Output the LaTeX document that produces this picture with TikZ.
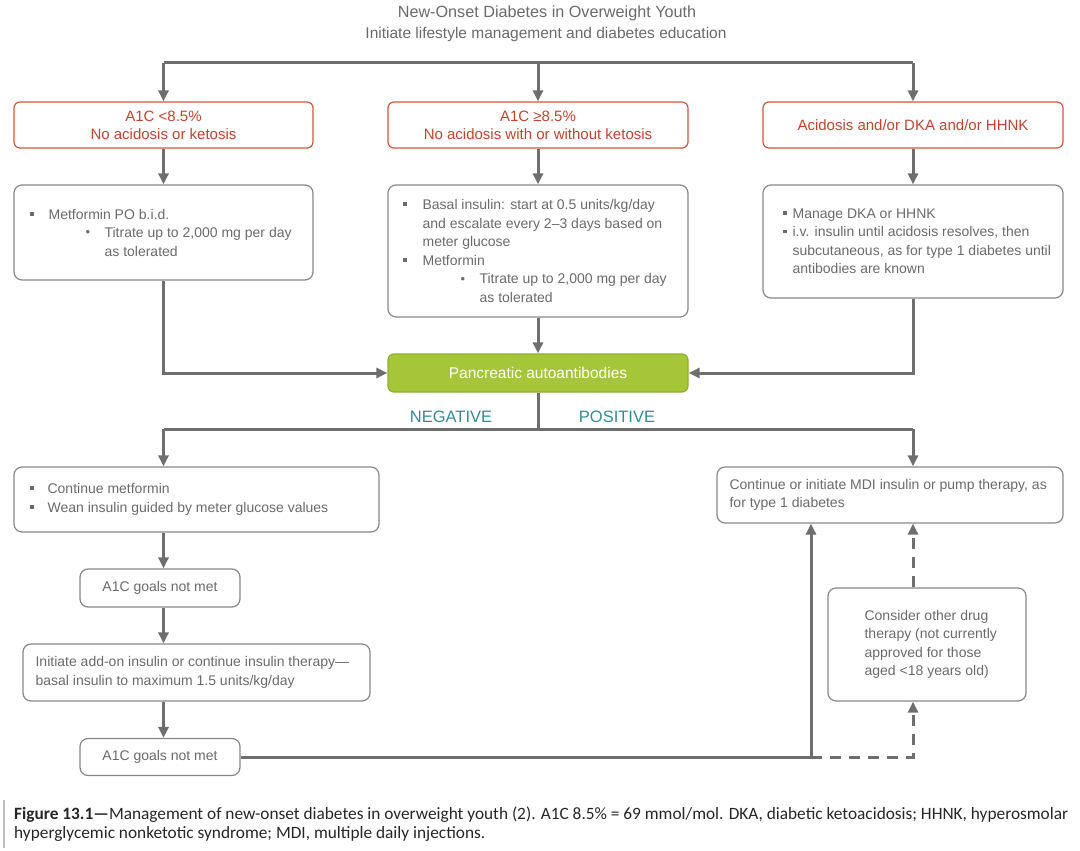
\documentclass[tikz,border=0pt]{standalone}
\usepackage{fontspec}
\setmainfont{Liberation Sans}
\newfontfamily\capfont{Carlito}
\usetikzlibrary{arrows.meta}
\definecolor{lgray}{HTML}{6E6E6E}
\definecolor{bgray}{HTML}{878787}
\definecolor{tgray}{HTML}{6A6A6A}
\definecolor{rborder}{HTML}{D4553E}
\definecolor{rtext}{HTML}{C8412D}
\definecolor{gfill}{HTML}{A6C63A}
\definecolor{gborder}{HTML}{8FAF2C}
\definecolor{labteal}{HTML}{2F8C96}
\newcommand{\sqb}[1]{\makebox[#1][l]{\rule[0.25em]{0.28em}{0.28em}}}
\newcommand{\smb}[1]{\makebox[#1][l]{\raisebox{0.05em}{\fontsize{13}{13}\selectfont\textbullet}}}
\newcommand{\bodyfont}{\fontsize{14}{18.5}\selectfont}
\tikzset{
  ln/.style={draw=lgray, line width=3pt},
  arr/.style={ln, -{Triangle[length=11pt,width=10pt]}},
  darr/.style={ln, dash pattern=on 11pt off 8pt, -{Triangle[length=11pt,width=10pt]}},
  redbox/.style={draw=rborder, rounded corners=6pt, line width=1.2pt, text=rtext, align=center, font=\fontsize{15}{18}\selectfont, inner sep=0pt},
  graybox/.style={draw=bgray, rounded corners=8pt, line width=1.2pt, inner sep=0pt},
  txt/.style={text=tgray, align=left, font=\bodyfont, inner sep=0pt, anchor=west},
  greenbox/.style={draw=gborder, fill=gfill, rounded corners=6pt, line width=1.2pt, text=white, font=\fontsize{15.5}{18}\selectfont, inner sep=0pt},
  lab/.style={text=labteal, font=\fontsize{16.5}{19}\selectfont, inner sep=0pt}
}
\begin{document}
\begin{tikzpicture}[x=1pt,y=-1pt]
\useasboundingbox (0,0) rectangle (1080,851);
% titles
\node[text=tgray, font=\fontsize{16.2}{19}\selectfont, inner sep=0pt] (t1) at (547,13) {New-Onset Diabetes in Overweight Youth};
\node[text=tgray, font=\fontsize{15.5}{18}\selectfont, inner sep=0pt] (t2) at (546,34) {Initiate lifestyle management and diabetes education};
% red boxes
\node[redbox, minimum width=299pt, minimum height=46pt] (r1) at (163.5,125) {A1C <8.5\%\\No acidosis or ketosis};
\node[redbox, minimum width=300pt, minimum height=46pt] (r2) at (538,125) {A1C ≥8.5\%\\No acidosis with or without ketosis};
\node[redbox, minimum width=300pt, minimum height=46pt] (r3) at (913,125) {Acidosis and/or DKA and/or HHNK};
% gray boxes row 2
\node[graybox, minimum width=299pt, minimum height=95pt] (g1) at (163.5,232.5) {};
\node[txt] (g1t) at ([xshift=16pt]g1.west) {\sqb{19pt}Metformin PO b.i.d.\\
\hspace*{56pt}\smb{19pt}Titrate up to 2,000 mg per day\\
\hspace*{75pt}as tolerated};
\node[graybox, minimum width=300pt, minimum height=132pt] (g2) at (538,251) {};
\node[txt] (g2t) at ([xshift=15pt]g2.west) {\sqb{20pt}Basal insulin: start at 0.5 units/kg/day\\
\hspace*{20pt}and escalate every 2–3 days based on\\
\hspace*{20pt}meter glucose\\
\sqb{20pt}Metformin\\
\hspace*{58pt}\smb{19pt}Titrate up to 2,000 mg per day\\
\hspace*{77pt}as tolerated};
\node[graybox, minimum width=300pt, minimum height=113pt] (g3) at (913,241.5) {};
\node[txt] (g3t) at ([xshift=20pt]g3.west) {\sqb{10pt}Manage DKA or HHNK\\
\sqb{10pt}i.v. insulin until acidosis resolves, then\\
\hspace*{10pt}subcutaneous, as for type 1 diabetes until\\
\hspace*{10pt}antibodies are known};
% green
\node[greenbox, minimum width=300pt, minimum height=38pt] (gr) at (538,373) {Pancreatic autoantibodies};
\node[lab] (neg) at (451,417) {NEGATIVE};
\node[lab] (pos) at (617,417) {POSITIVE};
% lower left
\node[graybox, minimum width=365pt, minimum height=65pt] (n1) at (196.5,499.5) {};
\node[txt] (n1t) at ([xshift=16pt]n1.west) {\sqb{18pt}Continue metformin\\
\sqb{18pt}Wean insulin guided by meter glucose values};
\node[graybox, minimum width=160pt, minimum height=38pt, text=tgray, font=\bodyfont] (a1) at (160,588) {A1C goals not met};
\node[graybox, minimum width=347pt, minimum height=57pt] (n2) at (196.5,672.5) {};
\node[txt] (n2t) at ([xshift=13pt]n2.west) {Initiate add-on insulin or continue insulin therapy—\\basal insulin to maximum 1.5 units/kg/day};
\node[graybox, minimum width=160pt, minimum height=37pt, text=tgray, font=\bodyfont] (a2) at (160,757) {A1C goals not met};
% right lower
\node[graybox, minimum width=346pt, minimum height=56pt] (p1) at (890,495) {};
\node[txt] (p1t) at ([xshift=13pt]p1.west) {Continue or initiate MDI insulin or pump therapy, as\\for type 1 diabetes};
\node[graybox, minimum width=198pt, minimum height=113pt] (c1) at (927,644.5) {};
\node[txt] (c1t) at ([xshift=37pt]c1.west) {Consider other drug\\therapy (not currently\\approved for those\\aged <18 years old)};
% connectors top
\coordinate (tb) at (538,63);
\draw[ln] (r1.north |- tb) -- (r3.north |- tb);
\draw[arr] (r1.north |- tb) -- (r1.north);
\draw[arr] (tb) -- (r2.north);
\draw[arr] (r3.north |- tb) -- (r3.north);
\draw[arr] (r1.south) -- (g1.north);
\draw[arr] (r2.south) -- (g2.north);
\draw[arr] (r3.south) -- (g3.north);
\draw[arr] (g1.south) |- (gr.west);
\draw[arr] (g2.south) -- (gr.north);
\draw[arr] (g3.south) |- (gr.east);
% split
\coordinate (bb) at (538,429);
\coordinate (bl) at (163.5,429);
\coordinate (br) at (913,429);
\draw[ln] (gr.south) -- (bb);
\draw[ln] (bl) -- (br);
\draw[arr] (bl) -- (bl |- n1.north);
\draw[arr] (br) -- (br |- p1.north);
\draw[arr] (bl |- n1.south) -- (bl |- a1.north);
\draw[arr] (bl |- a1.south) -- (bl |- n2.north);
\draw[arr] (bl |- n2.south) -- (bl |- a2.north);
% bottom
\coordinate (j) at (811,757);
\coordinate (dc) at (913,757);
\draw[ln] (a2.east) -- (j);
\draw[arr] (j) -- (j |- p1.south);
\draw[darr] (j) -- (dc) -- (dc |- c1.south);
\draw[darr] (dc |- c1.north) -- (dc |- p1.south);
% caption
\draw[draw=gray!50, line width=1.2pt] (4,800) -- (4,848);
\node[anchor=west, align=left, inner sep=0pt, text=black!85, font=\capfont\fontsize{17.3}{18.5}\selectfont] (cap) at (14,824) {\textbf{Figure 13.1—}Management of new-onset diabetes in overweight youth (2). A1C 8.5\% = 69 mmol/mol. DKA, diabetic ketoacidosis; HHNK, hyperosmolar\\hyperglycemic nonketotic syndrome; MDI, multiple daily injections.};
\end{tikzpicture}
\end{document}
